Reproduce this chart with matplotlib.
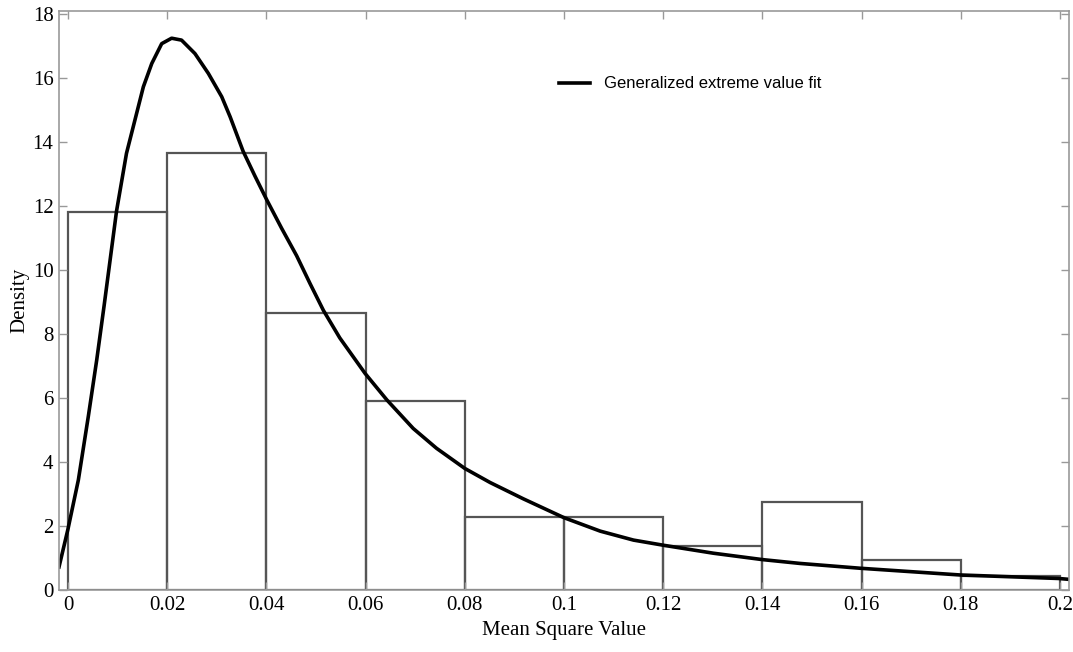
import numpy as np
import matplotlib
matplotlib.use('Agg')
import matplotlib.pyplot as plt

# histogram (bin edges and density)
bin_edges = [0, 0.02, 0.04, 0.06, 0.08, 0.10, 0.12, 0.14, 0.16, 0.18, 0.20]
density = [11.82, 13.67, 8.67, 5.92, 2.28, 2.28, 1.37, 2.74, 0.93, 0.45]

# GEV fit curve
fit_x = [-0.0018, 0.0, 0.0021, 0.0041, 0.0058, 0.0073, 0.0098, 0.0118, 0.0135,
         0.0152, 0.0169, 0.0189, 0.0209, 0.0229, 0.0256, 0.0283, 0.0310, 0.0327,
         0.0353, 0.0377, 0.0401, 0.0431, 0.0461, 0.0488, 0.0515, 0.0548, 0.0599,
         0.0643, 0.0696, 0.0743, 0.0800, 0.0851, 0.0918, 0.1000, 0.1073, 0.1140,
         0.1200, 0.1301, 0.1400, 0.1476, 0.1597, 0.1798, 0.1997, 0.2020]
fit_y = [0.72, 1.9, 3.44, 5.42, 7.19, 8.9, 11.85, 13.65, 14.69,
         15.73, 16.46, 17.08, 17.25, 17.19, 16.77, 16.15, 15.42, 14.79,
         13.72, 12.94, 12.19, 11.30, 10.45, 9.58, 8.74, 7.88, 6.77,
         5.94, 5.05, 4.43, 3.80, 3.36, 2.85, 2.26, 1.84, 1.56,
         1.40, 1.15, 0.95, 0.83, 0.68, 0.47, 0.36, 0.33]

xticks = [0, 0.02, 0.04, 0.06, 0.08, 0.1, 0.12, 0.14, 0.16, 0.18, 0.2]
xticklabels = ['0', '0.02', '0.04', '0.06', '0.08', '0.1', '0.12', '0.14', '0.16', '0.18', '0.2']
yticks = [0, 2, 4, 6, 8, 10, 12, 14, 16, 18]

serif = ['Liberation Serif', 'DejaVu Serif']
spine_col = '#999999'

fig = plt.figure(figsize=(10.73, 6.52), dpi=100)
ax = fig.add_axes([0.055, 0.0951, 0.9413, 0.888])

ax.bar(bin_edges[:-1], density, width=np.diff(bin_edges), align='edge',
       fill=False, edgecolor='#555555', linewidth=1.6)
ax.plot(fit_x, fit_y, color='black', linewidth=2.6, solid_joinstyle='round',
        label='Generalized extreme value fit')

ax.set_xlim(-0.0018, 0.2018)
ax.set_ylim(0, 18.1)
ax.set_xticks(xticks)
ax.set_xticklabels(xticklabels, family=serif, fontsize=15)
ax.set_yticks(yticks)
ax.set_yticklabels([str(t) for t in yticks], family=serif, fontsize=15)
ax.tick_params(direction='in', top=True, right=True, length=6, color=spine_col, width=1, pad=4)
for s in ax.spines.values():
    s.set_color(spine_col)
    s.set_linewidth(1.2)

ax.set_xlabel('Mean Square Value', family=serif, fontsize=15, labelpad=5)
ax.set_ylabel('Density', family=serif, fontsize=15, labelpad=2)

leg = ax.legend(loc='upper left', bbox_to_anchor=(0.48, 0.913), frameon=False,
                prop={'family': ['Liberation Sans', 'DejaVu Sans'], 'size': 12},
                handlelength=1.9, handletextpad=0.8)

fig.savefig('out.png', dpi=100)
